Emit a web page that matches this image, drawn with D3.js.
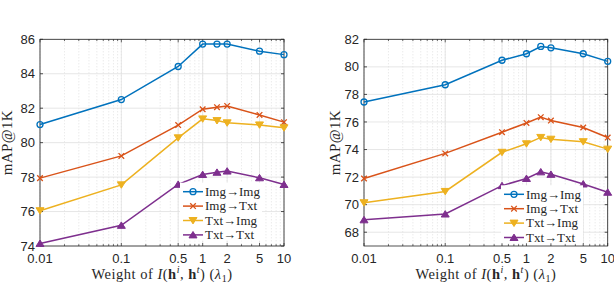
<!DOCTYPE html>
<html>
<head>
<meta charset="utf-8">
<script src="https://cdn.jsdelivr.net/npm/d3@7"></script>
<style>
  body { margin: 0; background: #fff; }
  svg { display: block; }
  .tick-label { font-family: "Liberation Sans", Arial, sans-serif; font-size: 13px; fill: #262626; }
  .math { font-family: "Liberation Serif", "DejaVu Serif", serif; fill: #262626; }
</style>
</head>
<body>
<div id="chart"></div>
<script>
// lambda_1 values on the x axis
const lambdas = [0.01, 0.1, 0.5, 1, 1.5, 2, 5, 10];
const xTickValues = [0.01, 0.1, 0.5, 1, 2, 5, 10];
const seriesNames = ["Img→Img", "Img→Txt", "Txt→Img", "Txt→Txt"];

// left panel
const leftImgImg = [81.05, 82.5, 84.42, 85.72, 85.72, 85.72, 85.31, 85.11];
const leftImgTxt = [77.94, 79.23, 81.02, 81.94, 82.06, 82.13, 81.61, 81.19];
const leftTxtImg = [76.05, 77.55, 80.28, 81.38, 81.28, 81.15, 81.03, 80.86];
const leftTxtTxt = [74.15, 75.2, 77.58, 78.15, 78.28, 78.35, 77.96, 77.57];
const leftYTicks = [74, 76, 78, 80, 82, 84, 86];

// right panel
const rightImgImg = [77.45, 78.7, 80.48, 80.95, 81.48, 81.38, 80.95, 80.4];
const rightImgTxt = [71.9, 73.72, 75.26, 75.93, 76.35, 76.1, 75.6, 74.87];
const rightTxtImg = [70.14, 70.96, 73.8, 74.42, 74.88, 74.75, 74.57, 74.03];
const rightTxtTxt = [68.9, 69.32, 71.38, 71.9, 72.38, 72.2, 71.5, 70.9];
const rightYTicks = [68, 70, 72, 74, 76, 78, 80, 82];

const colors = ["#0072BD", "#D95319", "#EDB120", "#7E2F8E"];
const markers = ["circle", "cross", "down", "up"];

const svg = d3.select("#chart").append("svg")
  .attr("width", 614)
  .attr("height", 284);

function drawMarker(g, type, cx, cy, color) {
  if (type === "circle") {
    g.append("circle").attr("cx", cx).attr("cy", cy).attr("r", 3)
      .attr("fill", "none").attr("stroke", color).attr("stroke-width", 1.3);
  } else if (type === "cross") {
    const s = 2.8;
    g.append("path")
      .attr("d", `M${cx - s},${cy - s}L${cx + s},${cy + s}M${cx - s},${cy + s}L${cx + s},${cy - s}`)
      .attr("stroke", color).attr("stroke-width", 1.3);
  } else {
    const s = 4;
    const d = type === "down"
      ? `M${cx - s},${cy - s * 0.75}L${cx + s},${cy - s * 0.75}L${cx},${cy + s * 0.85}Z`
      : `M${cx - s},${cy + s * 0.75}L${cx + s},${cy + s * 0.75}L${cx},${cy - s * 0.85}Z`;
    g.append("path").attr("d", d).attr("fill", color).attr("stroke", color).attr("stroke-width", 1);
  }
}

function drawPanel(opts) {
  const { left, right, top, bottom, yDomain, yTicks, series, labelX, legendX, legendY } = opts;
  const g = svg.append("g");

  const x = d3.scaleLog().domain([0.01, 10]).range([left, right]);
  const y = d3.scaleLinear().domain(yDomain).range([bottom, top]);

  // minor grid (dotted) then major grid
  const minor = x.ticks();
  g.selectAll(".minor").data(minor).join("line")
    .attr("x1", d => x(d)).attr("x2", d => x(d))
    .attr("y1", top).attr("y2", bottom)
    .attr("stroke", "#cfcfcf").attr("stroke-width", 0.6)
    .attr("stroke-dasharray", "1,2");
  g.selectAll(".vmajor").data(xTickValues).join("line")
    .attr("x1", d => x(d)).attr("x2", d => x(d))
    .attr("y1", top).attr("y2", bottom)
    .attr("stroke", "#dfdfdf").attr("stroke-width", 0.8);
  g.selectAll(".hmajor").data(yTicks).join("line")
    .attr("x1", left).attr("x2", right)
    .attr("y1", d => y(d)).attr("y2", d => y(d))
    .attr("stroke", "#dfdfdf").attr("stroke-width", 0.8);

  // box
  g.append("rect").attr("x", left).attr("y", top)
    .attr("width", right - left).attr("height", bottom - top)
    .attr("fill", "none").attr("stroke", "#262626").attr("stroke-width", 0.8);

  // ticks (inward, all four sides)
  yTicks.forEach(t => {
    g.append("line").attr("x1", left).attr("x2", left + 3).attr("y1", y(t)).attr("y2", y(t))
      .attr("stroke", "#262626").attr("stroke-width", 0.8);
    g.append("line").attr("x1", right).attr("x2", right - 3).attr("y1", y(t)).attr("y2", y(t))
      .attr("stroke", "#262626").attr("stroke-width", 0.8);
  });
  minor.forEach(t => {
    const len = xTickValues.includes(t) ? 3 : 1.8;
    g.append("line").attr("x1", x(t)).attr("x2", x(t)).attr("y1", bottom).attr("y2", bottom - len)
      .attr("stroke", "#262626").attr("stroke-width", 0.7);
    g.append("line").attr("x1", x(t)).attr("x2", x(t)).attr("y1", top).attr("y2", top + len)
      .attr("stroke", "#262626").attr("stroke-width", 0.7);
  });

  // tick labels
  g.selectAll(".ylab").data(yTicks).join("text")
    .attr("class", "tick-label")
    .attr("x", left - 5).attr("y", d => y(d) + 4.6)
    .attr("text-anchor", "end")
    .text(d => d);
  g.selectAll(".xlab").data(xTickValues).join("text")
    .attr("class", "tick-label")
    .attr("x", d => x(d)).attr("y", bottom + 16.5)
    .attr("text-anchor", "middle")
    .text(d => d);

  // series
  const line = d3.line().x((d, i) => x(lambdas[i])).y(d => y(d));
  series.forEach((vals, k) => {
    g.append("path").attr("d", line(vals))
      .attr("fill", "none").attr("stroke", colors[k]).attr("stroke-width", 1.5);
    const mg = g.append("g");
    vals.forEach((v, i) => drawMarker(mg, markers[k], x(lambdas[i]), y(v), colors[k]));
  });

  // legend
  const lg = g.append("g");
  lg.append("rect").attr("x", legendX - 3).attr("y", legendY - 9)
    .attr("width", 82).attr("height", 58).attr("fill", "#fff");
  seriesNames.forEach((name, k) => {
    const ly = legendY + k * 14.4;
    lg.append("line").attr("x1", legendX).attr("x2", legendX + 20)
      .attr("y1", ly).attr("y2", ly)
      .attr("stroke", colors[k]).attr("stroke-width", 1.5);
    drawMarker(lg, markers[k], legendX + 10, ly, colors[k]);
    lg.append("text").attr("class", "math").attr("font-size", 13)
      .attr("x", legendX + 22).attr("y", ly + 4.3)
      .text(name);
  });

  // y label
  g.append("text").attr("class", "math").attr("font-size", 15)
    .attr("letter-spacing", 0.4)
    .attr("transform", `translate(${labelX},${(top + bottom) / 2}) rotate(-90)`)
    .attr("text-anchor", "middle")
    .text("mAP@1K");

  // x label
  const xl = g.append("text").attr("class", "math").attr("font-size", 14.5)
    .attr("letter-spacing", 0.5)
    .attr("x", (left + right) / 2).attr("y", bottom + 33)
    .attr("text-anchor", "middle");
  xl.append("tspan").text("Weight of ");
  xl.append("tspan").attr("font-style", "italic").text("I");
  xl.append("tspan").text("(");
  xl.append("tspan").attr("font-weight", "bold").text("h");
  xl.append("tspan").attr("font-style", "italic").attr("font-size", 10).attr("dy", -6).text("i");
  xl.append("tspan").attr("dy", 6).text(", ");
  xl.append("tspan").attr("font-weight", "bold").text("h");
  xl.append("tspan").attr("font-style", "italic").attr("font-size", 10).attr("dy", -6).text("t");
  xl.append("tspan").attr("dy", 6).text(")  (");
  xl.append("tspan").attr("font-style", "italic").text("λ");
  xl.append("tspan").attr("font-size", 10).attr("dy", 3).text("1");
  xl.append("tspan").attr("dy", -3).text(")");
}

drawPanel({
  left: 40, right: 284, top: 39.3, bottom: 246,
  yDomain: [74, 86], yTicks: leftYTicks,
  series: [leftImgImg, leftImgTxt, leftTxtImg, leftTxtTxt],
  labelX: 12, legendX: 183, legendY: 191.7
});

drawPanel({
  left: 364, right: 607.7, top: 39.3, bottom: 246,
  yDomain: [67, 82], yTicks: rightYTicks,
  series: [rightImgImg, rightImgTxt, rightTxtImg, rightTxtTxt],
  labelX: 340, legendX: 504, legendY: 194.3
});
</script>
</body>
</html>
